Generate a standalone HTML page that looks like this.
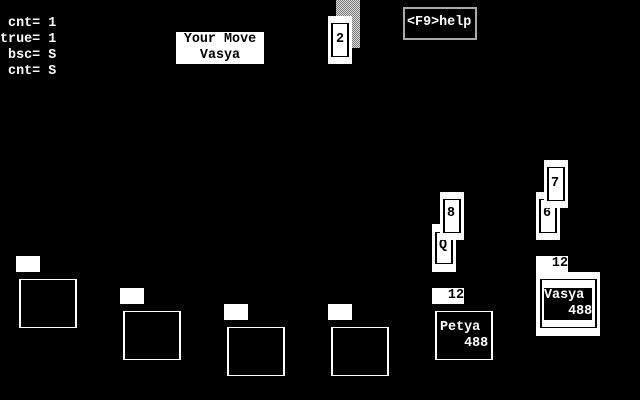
<!DOCTYPE html>
<html><head><style>
body{margin:0;width:640px;height:400px;background:#000;position:relative;overflow:hidden;font-family:"Liberation Mono",monospace;font-weight:bold;font-size:13.4px;}
div{position:absolute;box-sizing:border-box;}
.w{background:#fff;}
.o{border:1px solid #fff;border-left-width:2px;border-right-width:2px;}
.t{color:#fff;white-space:pre;line-height:16px;}
.b{color:#000;white-space:pre;line-height:16px;}
.card{background:#fff;width:24px;height:48px;}
.card .in{left:3px;top:7px;width:18px;height:34px;border:2px solid #000;border-top-width:1px;border-bottom-width:1px;}
.card .l{left:7px;top:8px;color:#000;line-height:16px;}
</style></head><body>
<div class="t" style="left:0;top:16px;"> cnt= 1
true= 1
 bsc= S
 cnt= S</div>
<div class="w" style="left:176px;top:32px;width:88px;height:32px;"></div>
<div class="b" style="left:176px;top:32px;width:88px;text-align:center;">Your Move
Vasya</div>
<div style="left:336px;top:0;width:24px;height:48px;background:repeating-conic-gradient(#ddd 0 25%,#777 0 50%) 0 0/2px 2px;"></div>
<div class="card" style="left:328px;top:16px;"><div class="in"></div><div class="l" style="top:16px;left:8px">2</div></div>
<div style="left:403px;top:7px;width:74px;height:33px;border:2px solid #aaa;"></div>
<div class="t" style="left:407px;top:15px;">&lt;F9&gt;help</div>

<div class="card" style="left:432px;top:224px;"><div class="in" style="top:8px;height:32px"></div><div class="l" style="top:14px">Q</div></div>
<div class="card" style="left:440px;top:192px;"><div class="in" style="top:7px;height:34px"></div><div class="l" style="top:14px">8</div></div>
<div class="card" style="left:536px;top:192px;"><div class="in"></div><div class="l" style="top:14px">6</div></div>
<div class="card" style="left:544px;top:160px;"><div class="in"></div><div class="l" style="top:16px">7</div></div>

<div class="w" style="left:16px;top:256px;width:24px;height:16px;"></div>
<div class="o" style="left:19px;top:279px;width:58px;height:49px;"></div>
<div class="w" style="left:120px;top:288px;width:24px;height:16px;"></div>
<div class="o" style="left:123px;top:311px;width:58px;height:49px;"></div>
<div class="w" style="left:224px;top:304px;width:24px;height:16px;"></div>
<div class="o" style="left:227px;top:327px;width:58px;height:49px;"></div>
<div class="w" style="left:328px;top:304px;width:24px;height:16px;"></div>
<div class="o" style="left:331px;top:327px;width:58px;height:49px;"></div>

<div class="w" style="left:432px;top:288px;width:32px;height:16px;"></div>
<div class="b" style="left:432px;top:288px;width:32px;text-align:right;">12</div>
<div class="o" style="left:435px;top:311px;width:58px;height:49px;"></div>
<div class="t" style="left:440px;top:320px;">Petya
   488</div>

<div class="w" style="left:536px;top:256px;width:32px;height:16px;"></div>
<div class="b" style="left:536px;top:256px;width:32px;text-align:right;">12</div>
<div class="w" style="left:536px;top:272px;width:64px;height:64px;"></div>
<div style="left:540px;top:279px;width:57px;height:49px;border:2px solid #000;border-top-width:1px;border-bottom-width:1px;"></div>
<div style="left:544px;top:288px;width:48px;height:32px;background:#000;"></div>
<div class="t" style="left:544px;top:288px;">Vasya
   488</div>
</body></html>
